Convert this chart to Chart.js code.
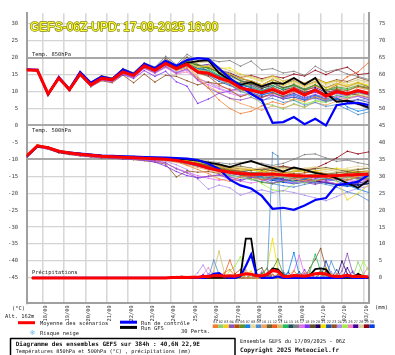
<!DOCTYPE html>
<html><head><meta charset="utf-8">
<script src="https://cdn.jsdelivr.net/npm/chart.js@4"></script>
<style>html,body{margin:0;padding:0;background:#fff}#c{display:block}</style>
</head><body>
<canvas id="c" width="395" height="355"></canvas>
<script>
// ---------- time axes ----------
const tempHours = [0,12,24,36,48,60,72,84,96,108,120,132,144,156,168,180,192,204,216,228,240,252,264,276,288,300,312,324,336,348,360,372,384];
const precipHours = [6,12,18,24,30,36,42,48,54,60,66,72,78,84,90,96,102,108,114,120,126,132,138,144,150,156,162,168,174,180,186,192,198,204,210,216,222,228,234,240,246,252,258,264,270,276,282,288,294,300,306,312,318,324,330,336,342,348,354,360,366,372,378,384];
const dayHours = [18,42,66,90,114,138,162,186,210,234,258,282,306,330,354,378];
const dayLabels = ['18/09','19/09','20/09','21/09','22/09','23/09','24/09','25/09','26/09','27/09','28/09','29/09','30/09','01/10','02/10','03/10'];
const leftTicks = [30,25,20,15,10,5,0,-5,-10,-15,-20,-25,-30,-35,-40,-45];
const rightTicks = [75,70,65,60,55,50,45,40,35,30,25,20,15,10,5,0];
const memberNames = ['01','02','03','04','05','06','07','08','09','10','11','12','13','14','15','16','17','18','19','20','21','22','23','24','25','26','27','28','29','30'];
const memberColors = ['#f08030','#90d070','#f0d020','#9050c0','#b05010','#609020','#1080f0','#e8d8a0','#5090d0','#f0a060','#706030','#f06020','#d0c070','#20c060','#205060','#808080','#e070f0','#8030f0','#605020','#200060','#f0e000','#2050b0','#905020','#b090f0','#a0f040','#f080c0','#4000a0','#e0d0a0','#900010','#0040e0'];

// ---------- Temp 850 hPa (°C) ----------
const t850Mean = [16.4,16.3,9.3,14.0,10.6,15.2,12.0,13.9,13.5,15.8,14.8,17.6,16.3,18.3,16.8,18.1,15.8,15.4,14.0,13.0,11.1,10.4,9.7,10.6,9.3,10.7,9.0,10.5,8.7,10.0,9.4,10.3,9.5];
const t850Control = [16.6,16.4,9.1,14.3,10.8,15.8,12.6,14.4,13.7,16.5,15.2,18.2,16.9,19.1,17.6,19.3,19.9,19.6,16.8,14.0,11.6,9.3,7.5,0.8,1.0,2.5,0.4,2.0,0.0,6.0,6.5,6.7,6.0];
const t850Gfs = [16.5,16.2,9.2,14.1,10.5,15.4,12.1,14.0,13.4,16.0,14.9,17.9,16.4,18.6,17.0,18.5,19.0,19.2,15.5,13.5,12.0,12.8,11.5,12.6,12.3,14.0,12.1,14.0,9.5,7.0,7.3,6.5,5.3];
const t850Perts = [
[16.5,16.4,9.5,14.2,10.4,15.0,11.8,14.1,13.2,15.5,14.6,17.2,16.0,17.9,16.2,17.0,14.0,11.0,7.5,5.0,3.5,4.2,5.8,7.0,6.2,7.9,7.0,8.5,7.6,9.8,9.0,11.2,10.5],
[16.3,16.2,9.2,13.9,10.7,15.3,12.2,13.8,13.6,15.9,15.0,17.8,16.5,18.6,17.1,18.4,16.5,16.0,14.2,12.5,10.5,8.5,6.5,6.0,4.8,6.5,5.2,7.5,6.8,9.0,8.5,10.2,9.6],
[16.4,16.3,9.4,14.1,10.5,15.4,12.3,14.0,13.7,16.2,15.1,18.0,16.7,18.9,17.3,18.6,17.2,17.5,16.0,15.2,14.0,13.2,12.0,13.5,11.8,13.0,11.5,12.8,11.0,12.2,11.6,12.5,11.8],
[16.3,16.1,9.0,13.8,10.3,14.9,11.6,13.5,13.0,15.2,14.3,17.0,15.6,17.4,15.5,16.8,13.5,11.0,9.5,8.0,7.5,8.3,7.2,8.8,8.0,9.5,8.3,9.2,8.2,9.5,8.7,9.8,9.0],
[16.5,16.4,9.3,14.0,10.8,15.5,12.4,14.3,13.4,16.1,14.7,17.5,16.2,18.2,16.5,17.8,15.5,14.5,12.0,10.5,8.5,9.5,8.2,9.6,8.5,10.0,8.8,10.4,9.2,10.8,10.2,11.5,11.0],
[16.4,16.3,9.6,14.3,10.9,15.6,12.6,14.4,13.8,16.4,15.3,18.1,16.8,19.0,17.4,18.9,17.8,17.0,15.5,14.5,13.2,12.5,11.4,12.8,11.0,12.2,10.8,12.0,10.5,11.4,10.9,11.8,11.2],
[16.4,16.2,9.1,14.0,10.6,15.3,12.1,13.9,13.5,15.9,14.9,17.8,16.4,18.5,17.0,18.4,17.0,16.2,14.5,13.8,12.4,11.0,9.2,9.8,8.4,9.0,7.6,8.8,7.5,8.0,5.5,4.2,4.8],
[16.6,16.5,9.5,14.2,10.8,15.4,12.2,14.1,13.6,16.0,15.0,17.7,16.6,18.7,17.2,18.5,17.4,17.8,16.5,15.8,14.6,14.0,12.8,14.2,12.6,13.5,12.0,13.2,11.8,12.6,11.9,13.0,12.4],
[16.3,16.2,9.2,13.8,10.5,15.1,11.9,13.8,13.3,15.7,14.7,17.5,16.1,18.2,16.6,17.9,16.0,15.2,13.5,12.0,10.0,9.2,7.5,8.0,6.8,7.4,6.0,6.8,5.6,6.2,4.8,3.2,4.0],
[16.5,16.3,9.3,14.1,10.6,15.2,12.0,14.0,13.5,15.8,14.8,17.6,16.3,18.3,16.7,17.6,14.5,11.5,9.8,8.0,6.5,5.5,4.5,5.8,5.2,6.2,5.5,6.8,6.0,7.2,7.8,9.0,8.5],
[16.4,16.4,9.7,14.5,11.0,15.8,12.8,14.7,14.0,16.8,15.5,18.3,17.0,19.8,17.6,20.2,18.0,17.2,15.8,15.2,13.8,13.2,12.0,13.6,12.2,13.3,11.8,13.0,11.2,12.4,11.5,12.6,11.4],
[16.3,16.2,9.1,13.9,10.4,15.0,11.9,13.7,13.3,15.6,14.6,17.3,16.0,18.0,16.4,17.9,16.2,15.8,13.8,12.2,10.2,11.0,9.8,11.2,10.0,11.4,10.0,11.6,10.2,12.0,14.4,15.8,18.6],
[16.5,16.4,9.4,14.2,10.7,15.4,12.3,14.2,13.6,16.3,15.2,18.0,16.8,19.2,17.6,19.4,18.5,18.8,17.2,16.2,15.0,14.5,13.4,14.8,13.2,14.0,12.5,13.6,12.2,13.1,12.6,13.5,12.8],
[16.4,16.3,9.3,14.1,10.6,15.3,12.1,14.0,13.6,16.0,15.0,17.9,16.6,18.8,17.3,18.8,17.5,16.8,14.8,13.6,12.0,11.5,10.2,11.8,10.6,11.8,10.4,11.9,10.2,11.2,10.5,11.6,10.8],
[16.4,16.3,9.2,14.0,10.6,15.2,12.0,13.9,13.4,15.8,14.8,17.6,16.3,18.4,16.9,18.3,16.8,16.2,14.6,13.5,12.0,11.2,10.0,11.3,9.8,10.8,9.5,10.8,9.2,10.0,9.4,10.2,9.6],
[16.6,16.5,9.6,14.4,10.9,15.7,12.7,14.6,14.0,16.7,15.6,18.5,17.3,20.4,18.0,21.0,19.2,19.6,18.8,19.2,17.5,19.0,16.4,16.8,15.5,16.0,14.8,17.5,15.8,16.5,15.2,14.5,13.6],
[16.2,16.1,8.9,13.6,10.2,14.8,11.5,13.4,12.9,15.2,14.2,16.8,15.5,17.2,15.3,16.4,13.2,12.0,10.8,9.5,8.6,9.4,8.2,9.2,8.0,8.8,7.8,8.6,7.6,8.4,7.8,8.6,8.0],
[16.3,16.2,9.0,13.7,10.3,14.9,11.6,13.5,13.0,15.0,13.9,16.2,14.5,16.0,12.9,11.6,6.5,7.8,9.5,10.2,11.0,11.8,10.4,11.2,9.8,10.6,9.0,9.8,8.8,9.6,9.0,9.8,9.2],
[16.5,16.4,9.5,14.2,10.8,15.5,12.3,14.2,13.7,16.4,15.2,18.0,16.8,19.0,17.5,19.0,17.8,16.0,14.2,12.8,11.5,12.2,10.8,12.4,11.0,12.0,10.6,12.0,10.4,10.8,9.4,9.0,8.2],
[16.4,16.2,9.2,13.9,10.5,15.2,12.0,13.8,13.4,15.8,14.8,17.6,16.3,18.4,16.9,18.6,17.6,17.8,16.2,15.0,13.2,12.4,11.0,11.8,10.5,11.2,9.8,10.5,9.2,8.0,7.0,6.2,5.0],
[16.5,16.3,9.3,14.0,10.7,15.3,12.1,14.0,13.5,15.9,14.9,17.7,16.5,18.6,17.0,18.7,17.3,17.6,16.8,17.0,15.2,14.2,13.0,14.5,13.0,13.8,12.4,13.8,12.5,13.2,12.0,12.8,11.8],
[16.3,16.2,9.1,13.9,10.4,15.0,11.8,13.7,13.2,15.5,14.5,17.3,15.9,17.9,16.3,17.5,15.6,14.8,13.0,11.8,10.6,9.8,8.6,9.0,7.8,8.4,7.5,8.2,7.2,7.8,7.0,7.6,6.8],
[16.4,16.2,9.0,13.7,10.2,14.7,11.4,13.2,12.6,14.9,12.6,15.2,12.8,14.8,14.5,13.2,12.0,12.8,12.2,13.0,12.5,13.2,12.0,13.5,12.4,13.6,12.5,14.0,12.6,13.5,13.0,14.2,13.2],
[16.4,16.3,9.2,13.9,10.5,15.1,11.9,13.7,13.2,15.5,14.4,17.2,15.8,17.6,15.8,16.5,14.0,12.6,11.0,10.0,9.0,9.6,8.4,9.0,7.8,8.4,7.4,8.0,7.0,7.6,7.2,7.8,7.4],
[16.5,16.3,9.4,14.1,10.7,15.4,12.3,14.1,13.6,16.1,15.1,17.9,16.6,18.8,17.3,18.5,16.8,16.4,15.0,14.0,12.6,11.8,10.5,10.0,8.2,7.5,6.4,7.2,6.8,8.0,8.2,9.4,9.0],
[16.3,16.1,9.0,13.7,10.3,14.7,11.5,13.4,12.9,15.1,14.1,16.9,15.4,17.1,15.2,15.8,13.6,12.8,11.5,10.8,10.0,10.6,9.5,10.5,9.4,10.2,9.0,9.8,8.6,9.4,8.8,9.6,9.0],
[16.4,16.3,9.3,14.0,10.6,15.2,12.1,13.9,13.5,15.9,14.9,17.7,16.4,18.6,17.0,18.8,17.6,18.0,16.4,15.6,14.0,13.0,11.8,12.6,11.2,11.8,10.5,11.2,9.8,10.4,9.6,10.0,9.0],
[16.5,16.4,9.4,14.2,10.8,15.5,12.4,14.3,13.8,16.3,15.3,18.1,16.9,19.1,17.6,19.0,17.9,17.4,15.6,14.8,13.4,12.8,11.8,13.0,11.6,12.6,11.2,12.4,11.0,11.8,11.3,12.2,11.5],
[16.4,16.3,9.4,14.1,10.7,15.4,12.2,14.1,13.6,16.1,15.1,17.9,16.7,18.9,17.4,18.8,17.4,17.0,15.8,15.4,14.2,14.8,13.8,14.6,14.0,15.2,14.6,16.3,15.0,16.4,17.2,15.0,15.4],
[16.3,16.2,9.1,13.9,10.5,15.1,12.0,13.8,13.4,15.8,14.8,17.6,16.3,18.4,16.8,18.2,16.6,15.8,14.0,12.8,11.2,10.4,9.0,9.8,8.6,9.4,8.0,9.0,7.8,8.8,8.2,8.6,7.6]
];

// ---------- Temp 500 hPa (°C) ----------
const t500Mean = [-9.0,-6.0,-6.6,-7.6,-8.1,-8.5,-8.8,-9.1,-9.2,-9.4,-9.5,-9.7,-9.8,-10.0,-10.3,-10.9,-11.6,-12.6,-13.3,-13.8,-14.2,-14.4,-14.4,-14.3,-14.6,-14.8,-14.9,-14.9,-15.0,-14.8,-14.6,-14.5,-14.4];
const t500Control = [-9.2,-6.2,-6.5,-7.7,-8.0,-8.3,-8.6,-8.9,-9.0,-9.1,-9.2,-9.3,-9.4,-9.5,-9.6,-9.8,-10.2,-11.3,-12.8,-16.0,-17.7,-18.6,-20.8,-24.6,-24.3,-24.9,-23.6,-22.0,-21.4,-17.6,-17.2,-16.6,-14.6];
const t500Gfs = [-9.1,-6.1,-6.5,-7.8,-8.2,-8.4,-8.7,-9.0,-9.1,-9.2,-9.3,-9.4,-9.6,-9.7,-9.8,-10.0,-10.4,-11.0,-11.5,-12.3,-11.3,-10.5,-11.6,-12.5,-13.6,-12.4,-13.1,-14.0,-14.6,-15.6,-17.0,-18.4,-16.2];
const t500Perts = [
[-8.8,-5.8,-6.4,-7.5,-8.0,-8.3,-8.6,-9.0,-9.0,-9.2,-9.3,-9.5,-9.6,-9.9,-10.6,-11.8,-13.0,-14.2,-15.8,-16.5,-15.2,-14.8,-16.0,-15.5,-14.6,-15.8,-16.4,-15.2,-14.8,-15.6,-16.2,-15.0,-14.2],
[-9.2,-6.2,-6.8,-7.8,-8.3,-8.6,-8.9,-9.2,-9.3,-9.6,-9.7,-9.9,-10.0,-10.2,-10.4,-11.0,-11.8,-12.8,-13.6,-14.8,-15.4,-16.0,-15.6,-14.8,-15.2,-16.4,-17.0,-16.2,-15.4,-14.6,-15.2,-16.0,-15.4],
[-9.0,-5.9,-6.5,-7.6,-8.0,-8.4,-8.7,-9.0,-9.1,-9.3,-9.4,-9.6,-9.7,-9.8,-10.0,-10.4,-10.8,-11.4,-12.2,-12.8,-13.2,-13.0,-13.6,-13.8,-14.2,-13.6,-13.2,-13.8,-14.4,-16.5,-22.0,-20.0,-17.5],
[-9.1,-6.2,-6.9,-7.9,-8.4,-8.8,-9.0,-9.3,-9.5,-9.7,-9.9,-10.2,-10.4,-11.0,-12.8,-14.0,-15.6,-15.0,-14.6,-15.8,-16.4,-15.2,-16.0,-17.0,-16.2,-15.6,-16.8,-17.4,-16.6,-15.8,-16.2,-15.4,-14.8],
[-8.9,-6.0,-6.5,-7.5,-8.0,-8.4,-8.7,-9.0,-9.1,-9.3,-9.4,-9.5,-9.6,-9.8,-10.0,-10.5,-11.2,-12.0,-12.8,-13.2,-13.6,-14.2,-13.8,-13.2,-13.8,-14.4,-14.0,-13.6,-14.2,-14.8,-14.2,-13.6,-13.8],
[-9.0,-6.1,-6.6,-7.6,-8.1,-8.5,-8.8,-9.1,-9.2,-9.4,-9.5,-9.6,-9.7,-9.8,-10.0,-10.4,-11.0,-11.8,-12.6,-13.4,-14.6,-15.8,-16.8,-17.2,-16.4,-15.6,-15.0,-14.6,-15.2,-14.8,-14.0,-13.8,-14.4],
[-9.1,-6.1,-6.7,-7.7,-8.2,-8.6,-8.9,-9.2,-9.3,-9.5,-9.6,-9.8,-9.9,-10.1,-10.3,-10.8,-11.4,-12.2,-13.0,-13.6,-14.0,-14.6,-15.2,-15.8,-16.2,-16.6,-15.8,-15.2,-15.8,-16.4,-17.6,-18.8,-19.8],
[-8.7,-5.8,-6.4,-7.4,-7.9,-8.3,-8.6,-8.9,-9.0,-9.2,-9.2,-9.4,-9.5,-9.6,-9.8,-10.0,-10.4,-11.0,-11.6,-12.0,-12.4,-12.8,-12.6,-12.2,-12.8,-13.0,-12.6,-12.2,-12.8,-13.2,-12.6,-12.0,-12.4],
[-9.0,-6.0,-6.6,-7.6,-8.1,-8.5,-8.8,-9.1,-9.2,-9.4,-9.6,-9.8,-10.0,-10.2,-10.6,-11.2,-12.0,-12.8,-13.6,-14.6,-15.2,-16.0,-16.6,-17.2,-17.8,-18.2,-17.4,-16.8,-17.4,-18.2,-19.6,-20.4,-22.2],
[-9.2,-6.2,-6.8,-7.8,-8.2,-8.6,-8.9,-9.2,-9.3,-9.5,-9.7,-9.9,-10.1,-10.4,-10.9,-11.6,-12.4,-13.2,-14.0,-14.4,-14.0,-14.6,-15.2,-14.6,-14.2,-14.8,-15.4,-14.8,-14.4,-15.0,-15.6,-15.0,-14.6],
[-8.8,-5.9,-6.5,-7.5,-8.0,-8.4,-8.7,-9.0,-9.1,-9.3,-9.4,-9.5,-9.6,-9.7,-9.9,-10.2,-10.6,-11.2,-11.8,-12.4,-12.0,-12.6,-13.2,-12.6,-12.2,-12.8,-13.4,-12.8,-12.4,-13.0,-13.6,-13.0,-12.6],
[-9.0,-6.0,-6.6,-7.7,-8.2,-8.6,-8.9,-9.1,-9.2,-9.5,-9.6,-9.8,-10.0,-10.2,-10.5,-11.0,-11.6,-12.4,-13.2,-13.8,-14.4,-15.0,-14.6,-14.0,-14.6,-15.2,-15.8,-16.4,-15.8,-15.2,-14.8,-15.4,-16.0],
[-8.9,-5.9,-6.5,-7.5,-8.0,-8.4,-8.7,-9.0,-9.1,-9.3,-9.4,-9.6,-9.7,-9.8,-10.0,-10.3,-10.8,-11.4,-11.8,-12.2,-12.6,-13.0,-12.4,-12.0,-12.6,-13.2,-12.8,-12.4,-13.0,-13.6,-13.2,-12.8,-13.4],
[-9.1,-6.1,-6.7,-7.7,-8.2,-8.6,-8.9,-9.2,-9.3,-9.5,-9.6,-9.8,-9.9,-10.1,-10.4,-10.9,-11.6,-12.4,-13.0,-13.8,-14.4,-14.0,-13.6,-14.2,-14.8,-15.4,-14.8,-14.2,-14.8,-15.4,-16.0,-15.4,-14.8],
[-9.0,-6.0,-6.6,-7.6,-8.1,-8.5,-8.8,-9.1,-9.2,-9.4,-9.5,-9.7,-9.8,-10.0,-10.3,-10.8,-11.4,-12.0,-12.8,-13.4,-14.0,-14.6,-15.2,-15.8,-15.4,-15.0,-15.6,-16.2,-15.8,-15.2,-14.8,-15.4,-15.8],
[-8.7,-5.7,-6.3,-7.3,-7.8,-8.2,-8.5,-8.8,-8.9,-9.1,-9.1,-9.3,-9.4,-9.5,-9.6,-9.8,-10.2,-10.6,-11.0,-11.4,-11.0,-10.6,-11.2,-11.8,-11.2,-10.0,-8.6,-8.4,-9.6,-10.6,-10.2,-11.0,-11.6],
[-9.2,-6.3,-6.9,-7.9,-8.4,-8.8,-9.1,-9.4,-9.5,-9.7,-9.9,-10.2,-10.5,-11.2,-12.6,-13.8,-14.8,-15.6,-16.2,-15.6,-16.4,-17.0,-16.4,-15.8,-16.4,-17.0,-16.6,-16.0,-16.6,-17.2,-16.8,-16.2,-15.8],
[-9.3,-6.4,-7.0,-8.0,-8.5,-8.9,-9.2,-9.5,-9.6,-9.9,-10.0,-10.3,-10.8,-12.0,-13.6,-14.8,-15.4,-15.0,-14.6,-15.2,-16.0,-15.4,-14.8,-15.4,-16.0,-15.6,-15.0,-15.6,-16.2,-15.8,-15.2,-15.8,-16.2],
[-8.9,-5.9,-6.5,-7.5,-8.0,-8.4,-8.7,-9.0,-9.1,-9.3,-9.5,-9.6,-9.8,-9.9,-10.2,-10.6,-11.2,-11.8,-12.4,-13.0,-13.6,-13.2,-12.8,-13.4,-14.0,-13.6,-13.2,-13.8,-14.4,-14.0,-13.6,-14.2,-14.6],
[-9.0,-6.1,-6.6,-7.6,-8.1,-8.5,-8.8,-9.1,-9.2,-9.4,-9.5,-9.7,-9.8,-10.0,-10.3,-10.7,-11.2,-12.0,-12.8,-13.6,-14.2,-14.8,-15.2,-15.6,-16.0,-16.4,-16.0,-16.4,-16.8,-17.2,-17.0,-17.6,-17.2],
[-8.8,-5.8,-6.4,-7.4,-7.9,-8.3,-8.6,-8.9,-9.0,-9.2,-9.3,-9.5,-9.6,-9.7,-9.9,-10.2,-10.6,-11.2,-11.8,-12.2,-12.6,-13.0,-13.4,-13.0,-12.6,-13.2,-13.8,-13.4,-13.0,-12.6,-13.2,-13.8,-13.4],
[-9.1,-6.2,-6.7,-7.7,-8.2,-8.6,-8.9,-9.2,-9.3,-9.5,-9.7,-9.9,-10.0,-10.3,-10.7,-11.3,-12.0,-12.8,-13.4,-14.0,-14.6,-15.2,-15.8,-16.2,-16.6,-17.0,-16.6,-16.2,-16.8,-17.4,-17.8,-17.4,-17.0],
[-9.4,-6.4,-7.0,-8.1,-8.6,-9.0,-9.3,-9.6,-9.7,-9.9,-10.1,-10.4,-10.8,-11.4,-15.2,-13.4,-13.8,-13.6,-14.2,-14.8,-14.2,-13.8,-14.4,-15.0,-14.6,-14.2,-14.8,-15.4,-15.0,-14.6,-15.2,-15.8,-15.4],
[-9.1,-6.2,-6.8,-7.8,-8.3,-8.7,-9.0,-9.3,-9.4,-9.6,-9.8,-10.0,-10.2,-10.6,-11.6,-13.0,-15.8,-18.8,-17.6,-18.4,-20.6,-19.6,-19.0,-19.8,-19.2,-19.8,-20.6,-21.4,-22.2,-21.0,-19.6,-18.6,-18.0],
[-9.0,-6.0,-6.6,-7.6,-8.1,-8.5,-8.8,-9.1,-9.2,-9.4,-9.5,-9.7,-9.8,-10.0,-10.2,-10.6,-11.2,-11.8,-12.6,-13.2,-13.8,-15.0,-17.2,-19.0,-19.4,-17.2,-15.6,-14.6,-14.2,-14.8,-15.4,-14.8,-14.4],
[-9.1,-6.1,-6.7,-7.7,-8.2,-8.6,-8.9,-9.2,-9.3,-9.5,-9.6,-9.8,-10.0,-10.2,-10.6,-11.2,-12.0,-12.8,-13.6,-14.2,-14.8,-15.4,-16.0,-15.4,-14.8,-15.4,-16.0,-16.6,-16.0,-15.4,-16.0,-16.6,-16.2],
[-9.0,-6.0,-6.6,-7.6,-8.1,-8.5,-8.8,-9.1,-9.2,-9.4,-9.5,-9.7,-9.8,-9.9,-10.1,-10.5,-11.0,-11.6,-12.2,-12.8,-13.4,-14.0,-14.6,-15.2,-15.8,-16.2,-16.6,-17.0,-16.8,-17.2,-17.6,-17.0,-16.4],
[-8.9,-5.9,-6.5,-7.5,-8.0,-8.4,-8.7,-9.0,-9.1,-9.3,-9.4,-9.6,-9.7,-9.9,-10.1,-10.4,-10.9,-11.4,-12.0,-12.6,-13.0,-13.4,-13.0,-12.6,-13.2,-13.8,-13.4,-13.0,-13.6,-14.2,-13.8,-13.4,-14.0],
[-8.8,-5.8,-6.4,-7.4,-7.9,-8.3,-8.6,-8.9,-9.0,-9.2,-9.3,-9.5,-9.6,-9.7,-9.9,-10.2,-10.6,-11.2,-11.8,-12.4,-12.8,-13.2,-12.8,-12.4,-12.0,-12.6,-13.2,-12.6,-11.2,-9.6,-7.6,-8.4,-7.8],
[-9.1,-6.1,-6.7,-7.7,-8.2,-8.6,-8.9,-9.2,-9.3,-9.5,-9.6,-9.8,-9.9,-10.1,-10.4,-10.9,-11.6,-12.4,-13.2,-13.8,-14.4,-15.0,-15.6,-16.2,-16.8,-17.2,-16.8,-16.4,-17.0,-17.6,-18.0,-17.6,-17.2]
];

// ---------- Precipitation (mm / 6h) ----------
const rrMean = [0,0,0,0,0,0,0,0,0,0,0,0,0,0,0,0,0,0,0,0,0,0,0,0,0, 0,0.1,0.1,0.2,0.1, 0.2,0.2,0.4,0.4,0.6, 0.7,0.5,0.6,0.5,0.9, 1.2,1.1,0.6,0.6,1.0, 2.2,1.9,0.5,0.4,0.7, 0.6,0.5,0.8,1.2,1.4, 1.1,0.6,0.4,0.5,0.8, 0.4,0.5,0.4,0.3];
const rrControl = [0,0,0,0,0,0,0,0,0,0,0,0,0,0,0,0,0,0,0,0,0,0,0,0,0, 0,0,0,0,0, 0,0,0,0.3,1.2, 1.4,0.3,0,0,0.5, 3.5,6.9,1.0,0,0, 0,0.4,0,0,0, 0,0,0,0,0, 0,0,0,0,0.4, 0,0,0,0];
const rrGfs = [0,0,0,0,0,0,0,0,0,0,0,0,0,0,0,0,0,0,0,0,0,0,0,0,0, 0,0,0,0,0, 0,0,0,0,0, 0,0,0,0,0.5, 11.6,11.6,0.8,0.3,1.0, 2.8,2.5,0.8,0.3,0, 0,0,0.8,2.6,2.8, 2.5,0.5,0,0,0, 0,1.2,0.4,0];
const rrPerts = [
[0,0,0,0,0,0,0,0,0,0,0,0,0,0,0,0,0,0,0,0,0,0,0,0,0, 0,0,0,0,0, 0,0,0,0,0, 0.5,1.5,2.5,0.5,0, 0,0,0,0,0, 1.0,0,0,0,2.0, 0.5,0,0,0,0, 0,0,1.2,0,0, 0,0,0,0],
[0,0,0,0,0,0,0,0,0,0,0,0,0,0,0,0,0,0,0,0,0,0,0,0,0, 0,0,0,0,0, 0,0,0,0,0, 0,0,0,0,1.0, 0,0,0,0.5,0, 0,0,0,0,0, 0,0,0,0,1.5, 0,0,0,0,0, 0,4.7,1.0,0],
[0,0,0,0,0,0,0,0,0,0,0,0,0,0,0,0,0,0,0,0,0,0,0,0,0, 0,0,0,0,0, 0,0,0,0,0, 0,0,0,0,0, 1.0,2.0,0,0,0, 0,0,0,0.8,0, 0,0,0,0,0, 3.0,1.0,0,0,0, 0,0,0,0],
[0,0,0,0,0,0,0,0,0,0,0,0,0,0,0,0,0,0,0,0,0,0,0,0,0, 0,0,0,0.5,0, 0,0,0,0.6,0, 0,0,0,0,0, 0,0,0,0,1.5, 0,0,0,0,0, 0,0,1.0,0,0, 0,0,0,2.0,7.2, 1.5,0,0,0],
[0,0,0,0,0,0,0,0,0,0,0,0,0,0,0,0,0,0,0,0,0,0,0,0,0, 0,0,0,0,0, 0.3,0,0,0,0, 0,0,0,1.2,2.5, 0,0,0,0,0, 0,1.0,0,0,0, 0,0,0,0,0, 1.8,0,0,0,0, 0,0,0,0],
[0,0,0,0,0,0,0,0,0,0,0,0,0,0,0,0,0,0,0,0,0,0,0,0,0, 0,0,0,0,0, 0,0,0,0,0, 0,0,0,0,0, 0,0,1.2,0,0, 2.5,5.6,1.0,0,0, 0,0,0,0,0, 0,0,0.6,0,0, 0,0,0,0],
[0,0,0,0,0,0,0,0,0,0,0,0,0,0,0,0,0,0,0,0,0,0,0,0,0, 0,0,0,0,0.3, 0,0,0,0,1.0, 0,0,0,0,0, 0,0,0,0,0, 0,0,0,2.0,7.5, 1.0,0,0,0,0, 0,0,0,0,0, 0,0,0.8,0],
[0,0,0,0,0,0,0,0,0,0,0,0,0,0,0,0,0,0,0,0,0,0,0,0,0, 0,0,0,0,0, 0,0,0,0,0, 0,0,0.8,0,0, 0,0,0,0,0, 0,1.5,0,0,0, 0,0,0,1.0,0, 0,0,0,0,0, 0.6,0,0,0],
[0,0,0,0,0,0,0,0,0,0,0,0,0,0,0,0,0,0,0,0,0,0,0,0,0, 0,0,0,0,0, 0,0,0,0,5.3, 1.0,0,0,0,0, 0,0,0,0,0.5, 37.0,36.0,2.0,0,0, 0,0,0,0,0, 0,5.0,1.0,0,0, 0,0,0,0],
[0,0,0,0,0,0,0,0,0,0,0,0,0,0,0,0,0,0,0,0,0,0,0,0,0, 0,0,0,0,0, 0,0,0.5,0,0, 0,0,0,0,0, 2.4,0,0,0,0, 0,0,0,0,0, 0,1.6,0,0,0, 0,0,0,0,1.0, 0,0,0,0],
[0,0,0,0,0,0,0,0,0,0,0,0,0,0,0,0,0,0,0,0,0,0,0,0,0, 0,0,0,0,0, 0,0,0,0,0, 0,0,0,0,0, 0,0,0,1.2,2.8, 0,0,0,0,0, 0,0,0,0,2.2, 1.0,0,0,0,0, 0,0,0,0],
[0,0,0,0,0,0,0,0,0,0,0,0,0,0,0,0,0,0,0,0,0,0,0,0,0, 0,0,0,0,0, 0,0,0,0,0, 0,1.0,5.3,1.2,0, 0,0,0,0,0, 0,0,0,0,0, 0,0,1.4,0,0, 0,0,0,0,0, 0,0,0,0],
[0,0,0,0,0,0,0,0,0,0,0,0,0,0,0,0,0,0,0,0,0,0,0,0,0, 0,0,0,0,0, 0,0,0,0,2.0, 7.9,1.5,0,0,0, 0,0,0,0,0, 1.0,0,0,0,0, 0,0,0,0,0, 0,0,0,0.8,0, 0,0,0,0],
[0,0,0,0,0,0,0,0,0,0,0,0,0,0,0,0,0,0,0,0,0,0,0,0,0, 0,0,0,0,0, 0,0,0,0,0, 0,0,0,0,0.8, 0,0,0,0,0, 0,0,1.2,0,0, 0,0,2.0,7.0,2.0, 0,0,0,0,0, 0,0,0,0],
[0,0,0,0,0,0,0,0,0,0,0,0,0,0,0,0,0,0,0,0,0,0,0,0,0, 0,0,0,0,0, 0,0,0,0,0, 0,0,0,0,0, 0,1.0,0,0,0, 0,0,0,0,0, 1.8,0,0,0,0, 0,0,0,0,0, 0,1.2,0,0],
[0,0,0,0,0,0,0,0,0,0,0,0,0,0,0,0,0,0,0,0,0,0,0,0,0, 0,0,0,0,0, 0,0,0,0,0, 0,0,0,0,0, 0,0,0,1.6,0, 0,0,0,0,0, 0,0,0,0,0, 0,1.0,0,0,0, 0,0,0,0],
[0,0,0,0,0,0,0,0,0,0,0,0,0,0,0,0,0,0,0,0,0,0,0,0,0, 0,0,0,0,0, 0,0,0,1.2,0, 0,0,0,0,0, 0,0,0,0,0, 0,1.0,0,0,2.0, 6.6,1.0,0,0,0, 0,0,0,0,0, 0,0,0,1.0],
[0,0,0,0,0,0,0,0,0,0,0,0,0,0,0,0,0,0,0,0,0,0,0,0,0, 0,0,0.4,0,0, 0,0,1.0,0,0, 0,0,0,0.8,0, 0,0,0,0,0, 0,0,0,0,0, 0,2.4,0,0,0, 0,0,0,0,0, 2.0,0,0,0],
[0,0,0,0,0,0,0,0,0,0,0,0,0,0,0,0,0,0,0,0,0,0,0,0,0, 0,0,0,0,0, 0,0,0,0,0, 0,0,0,0,0, 0,0,2.2,3.0,0, 0,0,0,0,0, 0,0,0,0,1.2, 0,0,0,0,0, 0,0,0,0],
[0,0,0,0,0,0,0,0,0,0,0,0,0,0,0,0,0,0,0,0,0,0,0,0,0, 0,0,0,0,0, 0,0,0,0,0, 0,0,0,0,0, 0,0,0,0,0, 0,0,1.0,0,0, 0,0,0,0,0, 2.0,0,0,5.0,1.2, 0,0,0,0],
[0,0,0,0,0,0,0,0,0,0,0,0,0,0,0,0,0,0,0,0,0,0,0,0,0, 0,0,0,0,0, 0,0,0,0,0, 0,0,0,0,0, 0,0,0,0.8,3.0, 11.6,2.5,0.8,0,0, 0,0,0,0,0, 0,0,0,0,0, 0,0,0,0],
[0,0,0,0,0,0,0,0,0,0,0,0,0,0,0,0,0,0,0,0,0,0,0,0,0, 0,0,0,0,0, 0,0,0,0,0, 0,0,0,1.0,0, 0,0,0,0,0, 0,0,0,1.5,0, 0,0,0,0,0, 0,0,2.4,0,0, 0,0,0,0],
[0,0,0,0,0,0,0,0,0,0,0,0,0,0,0,0,0,0,0,0,0,0,0,0,0, 0,0,0,0,0, 0,0,0,0,0, 1.0,0,0,0,0, 0,0,0,0,1.2, 0,0,0,0,0, 0,0,3.0,5.5,8.7, 3.0,0,0,0,0, 0,0,0,0],
[0,0,0,0,0,0,0,0,0,0,0,0,0,0,0,0,0,0,0,0,0,0,0,0,0, 0,0,0,0,0, 0,1.5,3.8,1.0,0, 0,0,0,0,0, 0,0,0,2.0,0, 0,0,0,0,0, 0,0,0,0,0, 0,1.8,0,0,0, 0,0,0,0],
[0,0,0,0,0,0,0,0,0,0,0,0,0,0,0,0,0,0,0,0,0,0,0,0,0, 0,0,0,0,0, 0,0,0,0,0, 0,0,2.0,3.5,6.2, 1.5,0,0,0,0, 0,0,0,0,0, 0,0,0,0,0, 0,0,0,0,0, 0,1.0,5.0,1.8],
[0,0,0,0,0,0,0,0,0,0,0,0,0,0,0,0,0,0,0,0,0,0,0,0,0, 0,0,0,0,0, 0,0,1.0,3.0,0.8, 0,0,0,0,0, 0,0,0,0,0, 0,0,0,0,0, 0,1.0,0,0,0, 0,0,0,0,0, 0,0,1.0,3.5],
[0,0,0,0,0,0,0,0,0,0,0,0,0,0,0,0,0,0,0,0,0,0,0,0,0, 0,0,0,0,0, 0,0,0,0,0, 0,0,0,0,0, 0,0,0,0,0, 1.0,0,0,0,0, 0,1.4,0,0,0, 0,0,0,0,3.0, 0,0,0,0],
[0,0,0,0,0,0,0,0,0,0,0,0,0,0,0,0,0,0,0,0,0,0,0,0,0, 0,0,0,0,0, 0,0,0,0,0, 0,0,0,0,0, 1.2,0,0,0,0, 0,0,0,1.0,2.2, 0,0,0,0,0, 0,0,0,1.0,0, 0,0,0,0],
[0,0,0,0,0,0,0,0,0,0,0,0,0,0,0,0,0,0,0,0,0,0,0,0,0, 0,0,0,0,0, 0,0,0,0,0, 0,0,0,0,0, 0,0,0,0,0.8, 0,0,0,0,0, 0,0,0,0,1.5, 0,0,0,0,0, 0,0.6,0,0],
[0,0,0,0,0,0,0,0,0,0,0,0,0,0,0,0,0,0,0,0,0,0,0,0,0, 0,0,0,0,0, 0,0,0,0,0, 1.2,0,0,0,0, 0,0,0,0,0, 0,0,1.5,0,0, 0,0,0,0,0, 5.0,1.0,0,0,0, 0,0,0,0]
];

// ---------- texts ----------
const titleText = 'GEFS-06Z-UPD: 17-09-2025 16:00';
const MONO = '"DejaVu Sans Mono", monospace';

function pts(values, hours){ return values.map((v,i)=>({x:hours[i], y:v})); }

const datasets = [];
function addMain(values, hours, color, width, axis, order){
  datasets.push({data:pts(values,hours), borderColor:color, backgroundColor:color, borderWidth:width,
    pointRadius:0, yAxisID:axis, order:order, tension:0, fill:false});
}
function addPert(values, hours, color, axis){
  datasets.push({data:pts(values,hours), borderColor:color, backgroundColor:color, borderWidth:0.8,
    pointRadius:0.8, pointBorderWidth:0, pointBackgroundColor:color, yAxisID:axis, order:5, tension:0, fill:false});
}
for(let m=0;m<30;m++){
  addPert(t850Perts[m], tempHours, memberColors[m], 'y');
  addPert(t500Perts[m], tempHours, memberColors[m], 'y');
  addPert(rrPerts[m], precipHours, memberColors[m], 'yR');
}
addMain(t850Gfs, tempHours, '#000000', 1.8, 'y', 3);
addMain(t500Gfs, tempHours, '#000000', 1.8, 'y', 3);
addMain(rrGfs, precipHours, '#000000', 1.8, 'yR', 3);
addMain(t850Control, tempHours, '#0000ff', 2.2, 'y', 2);
addMain(t500Control, tempHours, '#0000ff', 2.2, 'y', 2);
addMain(rrControl, precipHours, '#0000ff', 2.2, 'yR', 2);
addMain(t850Mean, tempHours, '#ff0000', 3, 'y', 1);
addMain(t500Mean, tempHours, '#ff0000', 3, 'y', 1);
addMain(rrMean, precipHours, '#ff0000', 3, 'yR', 1);

const emph = [20,0,-10];

const extras = {
  id:'extras',
  afterDraw(chart){
    const c = chart.ctx;
    c.save();
    // title
    c.font = '12px "Liberation Sans", Arial, sans-serif';
    c.textBaseline = 'alphabetic'; c.textAlign = 'left';
    c.lineJoin = 'round';
    c.strokeStyle = '#8a8a10'; c.lineWidth = 1.5;
    c.strokeText(titleText, 30, 31);
    c.fillStyle = '#ffff30';
    c.fillText(titleText, 30, 31);
    // panel labels
    c.font = '5.4px ' + MONO; c.fillStyle = '#222';
    c.fillText('Temp. 850hPa', 32, 55.5);
    c.fillText('Temp. 500hPa', 32, 132);
    c.fillText('Précipitations', 32, 274);
    // units
    c.fillText('(°C)', 12, 309.5);
    c.fillText('Alt. 162m', 5, 317.5);
    c.fillText('(mm)', 375, 309);
    // legend
    c.lineWidth = 3; c.lineCap='butt';
    c.strokeStyle = '#ff0000'; c.beginPath(); c.moveTo(18,322.7); c.lineTo(35,322.7); c.stroke();
    c.strokeStyle = '#0000ff'; c.beginPath(); c.moveTo(120,322.2); c.lineTo(137,322.2); c.stroke();
    c.strokeStyle = '#000000'; c.beginPath(); c.moveTo(120,327.4); c.lineTo(137,327.4); c.stroke();
    c.fillStyle = '#222';
    c.fillText('Moyenne des scénarios', 40, 325);
    c.fillText('Run de contrôle', 141, 324.6);
    c.fillText('Run GFS', 141, 329.8);
    c.fillText('Risque neige', 40, 334.6);
    c.fillText('30 Perts.', 181, 333);
    c.font = '7px "DejaVu Sans", sans-serif'; c.fillStyle = '#70b8f0';
    c.fillText('\u2744', 29.5, 335);
    // member swatches
    c.font = '3.6px ' + MONO; c.fillStyle = '#333'; c.textAlign = 'center';
    for(let i=0;i<30;i++){
      const x = 212.7 + i*5.4;
      c.fillText(memberNames[i], x+2.7, 322.6);
      c.fillStyle = memberColors[i]; c.fillRect(x, 324.4, 5.4, 3.6); c.fillStyle = '#333';
    }
    c.textAlign = 'left';
    // info box
    c.strokeStyle = '#000'; c.lineWidth = 1.5;
    c.strokeRect(10.5, 338.5, 224.5, 20);
    c.fillStyle = '#111';
    c.font = 'bold 6px ' + MONO;
    c.fillText('Diagramme des ensembles GEFS sur 384h : 40,6N 22,9E', 15.7, 346);
    c.font = '5.2px ' + MONO;
    c.fillText('Températures 850hPa et 500hPa (°C) , précipitations (mm)', 15.7, 352.6);
    c.font = '5.3px ' + MONO;
    c.fillText('Ensemble GEFS du 17/09/2025 - 06Z', 240, 342.6);
    c.font = 'bold 6.1px ' + MONO;
    c.fillText('Copyright 2025 Meteociel.fr', 240, 351.6);
    c.restore();
  }
};

new Chart(document.getElementById('c'), {
  type:'line',
  data:{datasets:datasets},
  plugins:[extras],
  options:{
    responsive:false, animation:false, devicePixelRatio:1,
    layout:{padding:0},
    plugins:{legend:{display:false}, tooltip:{enabled:false}},
    elements:{line:{borderCapStyle:'butt', borderJoinStyle:'miter'}},
    scales:{
      x:{type:'linear', position:'bottom', min:0, max:384,
        afterBuildTicks:(s)=>{ s.ticks = dayHours.map(v=>({value:v})); },
        afterFit:(s)=>{ s.height = 51.7; },
        ticks:{autoSkip:false, minRotation:90, maxRotation:90, padding:2, labelOffset:3,
          font:{family:'DejaVu Sans Mono', size:5.4}, color:'#333',
          callback:(v)=>dayLabels[dayHours.indexOf(v)]},
        grid:{color:'#d8d8d8', lineWidth:1.6, drawTicks:false},
        border:{color:'#a0a0a0', width:2}
      },
      y:{type:'linear', position:'left', min:-52.5, max:33.1,
        afterBuildTicks:(s)=>{ s.ticks = leftTicks.map(v=>({value:v})); },
        afterFit:(s)=>{ s.width = 26.7; },
        ticks:{padding:8.5, font:{family:'DejaVu Sans Mono', size:5.6}, color:'#444'},
        grid:{drawTicks:false,
          color:(ctx)=> emph.includes(ctx.tick && ctx.tick.value) ? '#a8a8a8' : '#d4d4d4',
          lineWidth:(ctx)=> emph.includes(ctx.tick && ctx.tick.value) ? 2 : 1.3},
        border:{color:'#a0a0a0', width:2}
      },
      yR:{type:'linear', position:'right', min:-7.5, max:78.1,
        afterBuildTicks:(s)=>{ s.ticks = rightTicks.map(v=>({value:v})); },
        afterFit:(s)=>{ s.width = 26.3; },
        ticks:{padding:10, font:{family:'DejaVu Sans Mono', size:5.6}, color:'#444'},
        grid:{display:false, drawTicks:false},
        border:{color:'#a0a0a0', width:2}
      }
    }
  }
});
</script>
</body></html>
